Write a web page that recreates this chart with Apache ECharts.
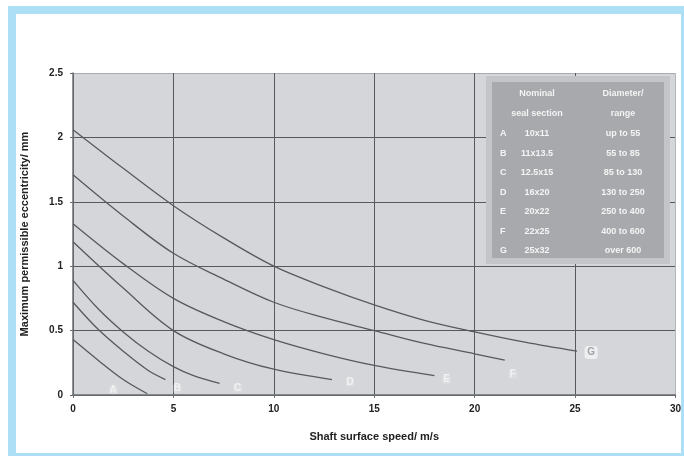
<!DOCTYPE html>
<html>
<head>
<meta charset="utf-8">
<script src="https://cdn.jsdelivr.net/npm/echarts@6/dist/echarts.min.js"></script>
<style>
  html, body { margin: 0; padding: 0; background: #fff; }
  #chart { width: 684px; height: 456px; }
</style>
</head>
<body>
<div id="chart"></div>
<script>
// curve values (speed m/s -> eccentricity mm)
var curveNames = ['A', 'B', 'C', 'D', 'E', 'F', 'G'];
var xA = [0, 1.25, 2.5, 3.7];
var yA = [0.43, 0.27, 0.12, 0.01];
var xB = [0, 1.25, 2.5, 3.75, 4.6];
var yB = [0.72, 0.51, 0.34, 0.19, 0.12];
var xC = [0, 1.25, 2.5, 3.75, 5, 6, 7.3];
var yC = [0.89, 0.67, 0.49, 0.34, 0.22, 0.15, 0.09];
var xD = [0, 2.5, 5, 7.5, 10, 12.9];
var yD = [1.19, 0.83, 0.50, 0.32, 0.20, 0.12];
var xE = [0, 2.5, 5, 7.5, 10, 12.5, 15, 18];
var yE = [1.33, 1.02, 0.75, 0.57, 0.43, 0.32, 0.23, 0.15];
var xF = [0, 2.5, 5, 7.5, 10, 12.5, 15, 17.5, 20, 21.5];
var yF = [1.71, 1.39, 1.10, 0.90, 0.72, 0.60, 0.50, 0.40, 0.32, 0.27];
var xG = [0, 2.5, 5, 7.5, 10, 12.5, 15, 17.5, 20, 22.5, 25.1];
var yG = [2.06, 1.76, 1.47, 1.22, 1.0, 0.84, 0.70, 0.58, 0.49, 0.41, 0.34];

// where the curve letters sit
var letterX = [2.0, 5.2, 8.2, 13.8, 18.6, 21.9, 25.8];
var letterY = [0.04, 0.05, 0.055, 0.10, 0.12, 0.16, 0.33];

// table in the top right corner
var sealSections = ['10x11', '11x13.5', '12.5x15', '16x20', '20x22', '22x25', '25x32'];
var diameterRanges = ['up to 55', '55 to 85', '85 to 130', '130 to 250', '250 to 400', '400 to 600', 'over 600'];

var xTicks = [0, 5, 10, 15, 20, 25, 30];
var yTicks = [0, 0.5, 1, 1.5, 2, 2.5];

var xs = [xA, xB, xC, xD, xE, xF, xG];
var ys = [yA, yB, yC, yD, yE, yF, yG];

var lineColor = '#565a5e';
var font = 'Liberation Sans, Arial, sans-serif';

var series = [];
for (var i = 0; i < curveNames.length; i++) {
    var pts = [];
    for (var j = 0; j < xs[i].length; j++) {
        pts.push([xs[i][j], ys[i][j]]);
    }
    series.push({
        name: curveNames[i],
        type: 'line',
        smooth: 0.35,
        showSymbol: false,
        lineStyle: { color: lineColor, width: 1.3 },
        data: pts
    });
}

var letterPts = [];
for (var k = 0; k < curveNames.length; k++) {
    var last = k === curveNames.length - 1;
    letterPts.push({
        value: [letterX[k], letterY[k]],
        name: curveNames[k],
        symbolSize: last ? 13 : 9,
        itemStyle: { color: last ? 'rgba(248,248,249,0.9)' : 'rgba(236,237,239,0.35)' },
        label: { color: last ? '#8d9093' : '#f7f7f7' }
    });
}
series.push({
    type: 'scatter',
    symbol: 'roundRect',
    label: {
        show: true,
        position: 'inside',
        formatter: '{b}',
        fontFamily: font,
        fontSize: 10,
        fontWeight: 'bold'
    },
    data: letterPts,
    z: 5
});

// table graphics
var graphics = [
    { type: 'rect', shape: { x: 12, y: 10, width: 673, height: 447 },
      style: { fill: 'none', stroke: '#ade0f7', lineWidth: 8 }, z: 100 },
    { type: 'rect', shape: { x: 486, y: 76, width: 184, height: 188 },
      style: { fill: '#c3c5c8' }, z: 50 },
    { type: 'rect', shape: { x: 492, y: 82, width: 172, height: 176 },
      style: { fill: '#a7a9ac' }, z: 51 }
];
function tableText(txt, x, y, align) {
    graphics.push({
        type: 'text', x: x, y: y, z: 52,
        style: { text: txt, fill: '#f4f4f4', font: 'bold 9px ' + font,
                 textAlign: align, textVerticalAlign: 'middle' }
    });
}
tableText('Nominal', 537, 94, 'center');
tableText('seal section', 537, 114, 'center');
tableText('Diameter/', 623, 94, 'center');
tableText('range', 623, 114, 'center');
for (var r = 0; r < curveNames.length; r++) {
    var rowY = 134 + r * 19.5;
    tableText(curveNames[r], 500, rowY, 'left');
    tableText(sealSections[r], 537, rowY, 'center');
    tableText(diameterRanges[r], 623, rowY, 'center');
}

var gridColorsX = xTicks.map(function (v, i) { return i === xTicks.length - 1 ? '#b4b7ba' : lineColor; });
var gridColorsY = yTicks.map(function (v, i) { return i === yTicks.length - 1 ? '#a9acaf' : lineColor; });

var chart = echarts.init(document.getElementById('chart'));
chart.setOption({
    animation: false,
    backgroundColor: '#ffffff',
    grid: {
        left: 73, right: 8, top: 73, bottom: 61,
        show: true, backgroundColor: '#d4d6d9', borderWidth: 0
    },
    xAxis: {
        type: 'value',
        min: xTicks[0], max: xTicks[xTicks.length - 1], interval: 5,
        name: 'Shaft surface speed/ m/s',
        nameLocation: 'middle',
        nameGap: 36,
        nameTextStyle: { color: '#222', fontFamily: font, fontSize: 11, fontWeight: 'bold' },
        axisLine: { show: true, lineStyle: { color: '#6b6e72', width: 1.5 } },
        axisTick: { show: true, length: 3, lineStyle: { color: '#6b6e72' } },
        axisLabel: { color: '#222', fontFamily: font, fontSize: 10, fontWeight: 'bold', margin: 9 },
        splitLine: { show: true, lineStyle: { color: gridColorsX, width: 1 } }
    },
    yAxis: {
        type: 'value',
        min: yTicks[0], max: yTicks[yTicks.length - 1], interval: 0.5,
        name: 'Maximum permissible eccentricity/ mm',
        nameLocation: 'middle',
        nameGap: 43,
        nameTextStyle: { color: '#222', fontFamily: font, fontSize: 11, fontWeight: 'bold' },
        axisLine: { show: true, lineStyle: { color: '#6b6e72', width: 1.5 } },
        axisTick: { show: true, length: 3, lineStyle: { color: '#6b6e72' } },
        axisLabel: { color: '#222', fontFamily: font, fontSize: 10, fontWeight: 'bold', margin: 10 },
        splitLine: { show: true, lineStyle: { color: gridColorsY, width: 1 } }
    },
    graphic: graphics,
    series: series
});
</script>
</body>
</html>
